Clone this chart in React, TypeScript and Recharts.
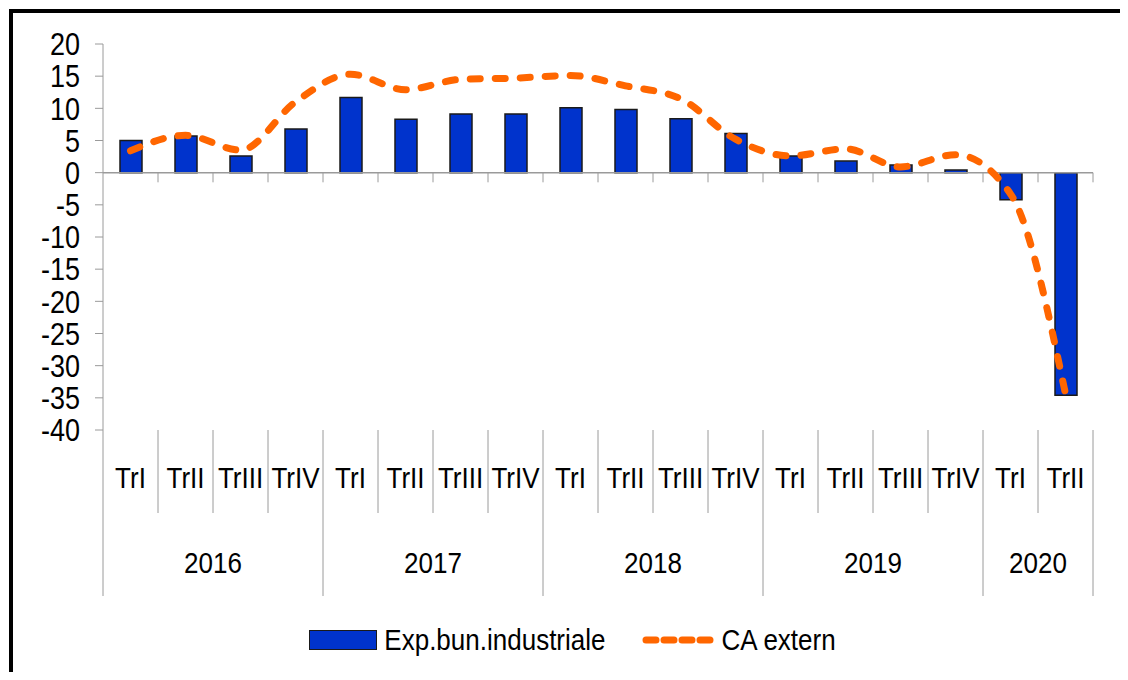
import { ComposedChart, Bar, Line, XAxis, YAxis, ReferenceLine, Legend } from 'recharts';

const quarters = [
  'TrI', 'TrII', 'TrIII', 'TrIV',
  'TrI', 'TrII', 'TrIII', 'TrIV',
  'TrI', 'TrII', 'TrIII', 'TrIV',
  'TrI', 'TrII', 'TrIII', 'TrIV',
  'TrI', 'TrII',
];
const years = [
  '2016', '2016', '2016', '2016',
  '2017', '2017', '2017', '2017',
  '2018', '2018', '2018', '2018',
  '2019', '2019', '2019', '2019',
  '2020', '2020',
];
const expBunIndustriale = [5.0, 5.7, 2.6, 6.8, 11.7, 8.3, 9.1, 9.1, 10.1, 9.8, 8.4, 6.1, 2.6, 1.8, 1.2, 0.4, -4.2, -34.6];
const caExtern = [3.4, 5.8, 3.5, 11.0, 15.3, 12.9, 14.5, 14.7, 15.1, 13.5, 11.5, 5.2, 2.6, 3.7, 0.9, 2.8, -3.3, -34.4];
const yTicks = [20, 15, 10, 5, 0, -5, -10, -15, -20, -25, -30, -35, -40];

const BLUE = '#0033CC';
const ORANGE = '#FF6600';
const GREY = '#9a9a9a';
const FONT = "'Liberation Sans', Arial, sans-serif";
const STRETCH = 1.16;

const n = quarters.length;

// pos = centre of each category on the 0..n group axis
const data = quarters.map((q, i) => ({
  cat: `${years[i]} ${q}`,
  pos: i + 0.5,
  exp: expBunIndustriale[i],
  ca: caExtern[i],
}));

// year groups -> centre position on the group axis
const yearSpans: { year: string; start: number; count: number }[] = [];
years.forEach((y, i) => {
  const last = yearSpans[yearSpans.length - 1];
  if (last && last.year === y) last.count += 1;
  else yearSpans.push({ year: y, start: i, count: 1 });
});
const yearCenter = new Map(yearSpans.map((s) => [s.start + s.count / 2, s.year]));

const groupTicks = Array.from(
  new Set([
    ...Array.from({ length: n + 1 }, (_, i) => i),
    ...quarters.map((_, i) => i + 0.5),
    ...yearCenter.keys(),
  ])
).sort((a, b) => a - b);

const isYearEdge = (k: number) => k === 0 || k === n || years[k] !== years[k - 1];

const YTick = ({ x, y, payload }: any) => (
  <g transform={`translate(${x},${y}) scale(1,${STRETCH})`}>
    <text x={0} y={0} dy="0.36em" textAnchor="end" fontSize={27} fontFamily={FONT} fill="#000">
      {payload.value}
    </text>
  </g>
);

const GroupTick = ({ x, y, payload }: any) => {
  const v: number = payload.value;
  const parts = [];
  if (Number.isInteger(v)) {
    parts.push(
      <line key="sep" x1={x} x2={x} y1={y} y2={y + (isYearEdge(v) ? 166 : 83)} stroke={GREY} strokeWidth={1} />
    );
  }
  if (Math.abs(v - Math.floor(v) - 0.5) < 1e-6) {
    parts.push(
      <g key="q" transform={`translate(${x},${y + 47}) scale(1,${STRETCH})`}>
        <text x={0} y={0} dy="0.36em" textAnchor="middle" fontSize={26} fontFamily={FONT} fill="#000">
          {quarters[Math.floor(v)]}
        </text>
      </g>
    );
  }
  if (yearCenter.has(v)) {
    parts.push(
      <g key="y" transform={`translate(${x},${y + 132}) scale(1,${STRETCH})`}>
        <text x={0} y={0} dy="0.36em" textAnchor="middle" fontSize={26} fontFamily={FONT} fill="#000">
          {yearCenter.get(v)}
        </text>
      </g>
    );
  }
  return <g>{parts}</g>;
};

const renderLegend = (props: any) => {
  const items = [...(props.payload || [])].sort((a: any, b: any) =>
    a.type === 'rect' ? -1 : b.type === 'rect' ? 1 : 0
  );
  return (
    <div
      style={{
        display: 'flex',
        justifyContent: 'center',
        alignItems: 'center',
        height: 36,
        paddingLeft: 17,
        fontFamily: FONT,
        fontSize: 26,
        color: '#000',
      }}
    >
      {items.map((entry: any, i: number) => (
        <div key={entry.value} style={{ display: 'flex', alignItems: 'center', marginRight: i === 0 ? 37 : 0 }}>
          {entry.type === 'rect' ? (
            <div style={{ width: 66, height: 18, background: entry.color, border: '1.5px solid #1a1a1a' }} />
          ) : (
            <svg width={72} height={10}>
              <line
                x1={4}
                x2={68}
                y1={5}
                y2={5}
                stroke={entry.color}
                strokeWidth={7}
                strokeDasharray="10 8"
                strokeLinecap="round"
              />
            </svg>
          )}
          <span style={{ display: 'inline-block', marginLeft: 7, transform: `scaleY(${STRETCH})`, lineHeight: 1 }}>
            {entry.value}
          </span>
        </div>
      ))}
    </div>
  );
};

const App = () => {
  return (
    <div style={{ position: 'relative', width: 1128, height: 680, margin: -8, overflow: 'hidden', background: '#fff' }}>
      <div style={{ position: 'absolute', left: 0, top: 0 }}>
        <ComposedChart width={1128} height={680} data={data} margin={{ top: 44, right: 35, left: 0, bottom: 0 }}>
          <XAxis dataKey="cat" hide height={0} />
          <XAxis
            xAxisId="grp"
            dataKey="pos"
            type="number"
            domain={[0, n]}
            ticks={groupTicks}
            interval={0}
            tick={(p: any) => <GroupTick {...p} />}
            tickSize={0}
            tickMargin={0}
            axisLine={false}
            tickLine={false}
            height={250}
            allowDataOverflow
          />
          <YAxis
            domain={[-40, 20]}
            ticks={yTicks}
            interval={0}
            width={103}
            tickSize={8}
            tickMargin={15}
            axisLine={{ stroke: GREY, strokeWidth: 1 }}
            tickLine={{ stroke: GREY, strokeWidth: 1 }}
            tick={(p: any) => <YTick {...p} />}
          />
          <ReferenceLine y={0} stroke={GREY} strokeWidth={1.5} />
          {Array.from({ length: n }, (_, i) => i + 1).map((k) => (
            <ReferenceLine
              key={k}
              xAxisId="grp"
              segment={[{ x: k, y: 0 }, { x: k, y: -1.5 }]}
              stroke={GREY}
              strokeWidth={1}
            />
          ))}
          <Bar
            dataKey="exp"
            name="Exp.bun.industriale"
            fill={BLUE}
            stroke="#1a1a1a"
            strokeWidth={1.5}
            barSize={22}
            isAnimationActive={false}
          />
          <Line
            dataKey="ca"
            name="CA extern"
            type="monotone"
            stroke={ORANGE}
            strokeWidth={7}
            strokeDasharray="10 15"
            strokeLinecap="round"
            dot={false}
            activeDot={false}
            isAnimationActive={false}
          />
          <Legend
            verticalAlign="middle"
            align="center"
            layout="horizontal"
            wrapperStyle={{ top: 622, left: 0, width: 1128, height: 36 }}
            content={renderLegend}
          />
        </ComposedChart>
      </div>
      <div
        style={{
          position: 'absolute',
          left: 9,
          top: 9,
          width: 1117,
          height: 720,
          border: '4px solid #000',
          boxSizing: 'border-box',
          pointerEvents: 'none',
        }}
      />
    </div>
  );
};

export default App;
